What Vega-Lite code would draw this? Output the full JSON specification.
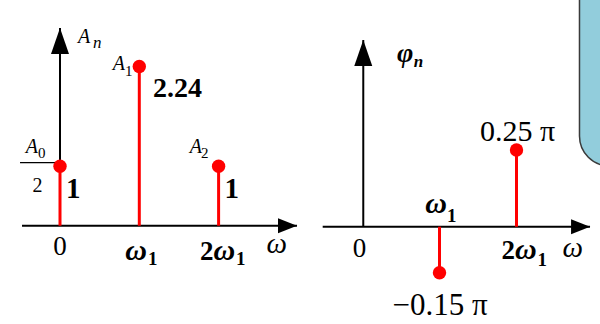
{
  "$schema": "https://vega.github.io/schema/vega-lite/v6.json",
  "padding": 0,
  "spacing": 0,
  "background": "white",
  "config": {
    "view": {"stroke": null},
    "axis": {"disable": true},
    "legend": {"disable": true},
    "concat": {"spacing": 0},
    "text": {"font": "Liberation Serif", "color": "black", "baseline": "alphabetic"}
  },
  "datasets": {
    "amp": [
      {"freq": 0, "amp": 1, "label": "1"},
      {"freq": 1, "amp": 2.24, "label": "2.24"},
      {"freq": 2, "amp": 1, "label": "1"}
    ],
    "phase": [
      {"freq": 1, "phase": -0.15, "label": "−0.15 π"},
      {"freq": 2, "phase": 0.25, "label": "0.25 π"}
    ],
    "ticks": [{"freq": 0}, {"freq": 1}, {"freq": 2}],
    "axesL": [
      {"kind": "h", "x1": -0.479, "x2": 2.989, "y1": 0, "y2": 0},
      {"kind": "v", "x1": 0, "x2": 0, "y1": 0, "y2": 2.676},
      {"kind": "frac", "x1": -0.504, "x2": -0.03, "y1": 1.048, "y2": 1.048}
    ],
    "axesR": [
      {"kind": "h", "x1": -0.517, "x2": 2.955, "y1": 0, "y2": 0},
      {"kind": "v", "x1": 0.01, "x2": 0.01, "y1": 0, "y2": 0.6087}
    ],
    "boxR": [{"x1": 2.818, "x2": 3.6, "y1": 0.198, "y2": 1.0}]
  },
  "hconcat": [
    {
      "width": 300,
      "height": 324,
      "layer": [
        {
          "data": {"name": "axesL"},
          "transform": [{"filter": "datum.kind != 'frac'"}],
          "mark": {"type": "rule", "color": "black", "strokeWidth": 2},
          "encoding": {
            "x": {"field": "x1", "type": "quantitative", "scale": {"domain": [-0.7566, 3.0265], "zero": false, "nice": false}},
            "x2": {"field": "x2"},
            "y": {"field": "y1", "type": "quantitative", "scale": {"type": "pow", "exponent": 1.22, "domain": [-1.509, 2.983], "zero": false, "nice": false}},
            "y2": {"field": "y2"}
          }
        },
        {
          "data": {"name": "axesL"},
          "transform": [{"filter": "datum.kind == 'frac'"}],
          "mark": {"type": "rule", "color": "black", "strokeWidth": 1.3},
          "encoding": {
            "x": {"field": "x1", "type": "quantitative", "scale": {"domain": [-0.7566, 3.0265], "zero": false, "nice": false}},
            "x2": {"field": "x2"},
            "y": {"field": "y1", "type": "quantitative", "scale": {"type": "pow", "exponent": 1.22, "domain": [-1.509, 2.983], "zero": false, "nice": false}},
            "y2": {"field": "y2"}
          }
        },
        {
          "data": {"name": "axesL"},
          "transform": [{"filter": "datum.kind != 'frac'"}],
          "mark": {"type": "point", "filled": true, "color": "black", "opacity": 1, "size": 400, "strokeWidth": 0},
          "encoding": {
            "x": {"field": "x2", "type": "quantitative", "scale": {"domain": [-0.7566, 3.0265], "zero": false, "nice": false}},
            "y": {"field": "y2", "type": "quantitative", "scale": {"type": "pow", "exponent": 1.22, "domain": [-1.509, 2.983], "zero": false, "nice": false}},
            "shape": {"field": "kind", "type": "nominal", "scale": {"domain": ["h", "v"], "range": ["M0,0L-1.9,-0.75L-1.9,0.75Z", "M0,0L0.9,2.6L-0.9,2.6Z"]}, "legend": null}
          }
        },
        {
          "data": {"name": "amp"},
          "mark": {"type": "rule", "color": "#ff0000", "strokeWidth": 3},
          "encoding": {
            "x": {"field": "freq", "type": "quantitative", "scale": {"domain": [-0.7566, 3.0265], "zero": false, "nice": false}},
            "y": {"field": "amp", "type": "quantitative", "scale": {"type": "pow", "exponent": 1.22, "domain": [-1.509, 2.983], "zero": false, "nice": false}},
            "y2": {"datum": 0}
          }
        },
        {
          "data": {"name": "amp"},
          "mark": {"type": "point", "filled": true, "color": "#ff0000", "opacity": 1, "size": 180, "shape": "circle"},
          "encoding": {
            "x": {"field": "freq", "type": "quantitative", "scale": {"domain": [-0.7566, 3.0265], "zero": false, "nice": false}},
            "y": {"field": "amp", "type": "quantitative", "scale": {"type": "pow", "exponent": 1.22, "domain": [-1.509, 2.983], "zero": false, "nice": false}}
          }
        },
        {
          "data": {"name": "amp"},
          "transform": [{"filter": "datum.amp == 1"}],
          "mark": {"type": "text", "fontWeight": "bold", "fontSize": 29, "align": "left", "dx": 6, "dy": 31.8},
          "encoding": {
            "x": {"field": "freq", "type": "quantitative", "scale": {"domain": [-0.7566, 3.0265], "zero": false, "nice": false}},
            "y": {"field": "amp", "type": "quantitative", "scale": {"type": "pow", "exponent": 1.22, "domain": [-1.509, 2.983], "zero": false, "nice": false}},
            "text": {"field": "label"}
          }
        },
        {
          "data": {"name": "amp"},
          "transform": [{"filter": "datum.amp != 1"}],
          "mark": {"type": "text", "fontWeight": "bold", "fontSize": 28, "align": "left", "dx": 13.7, "dy": 30.5},
          "encoding": {
            "x": {"field": "freq", "type": "quantitative", "scale": {"domain": [-0.7566, 3.0265], "zero": false, "nice": false}},
            "y": {"field": "amp", "type": "quantitative", "scale": {"type": "pow", "exponent": 1.22, "domain": [-1.509, 2.983], "zero": false, "nice": false}},
            "text": {"field": "label"}
          }
        },
        {
          "data": {"name": "amp"},
          "transform": [{"filter": "datum.freq == 0"}],
          "layer": [
            {"mark": {"type": "text", "text": "A", "fontStyle": "italic", "fontSize": 20, "align": "right", "dx": -22, "dy": -13.2}},
            {"mark": {"type": "text", "fontSize": 15, "align": "left", "dx": -22, "dy": -8.2}, "encoding": {"text": {"field": "freq"}}},
            {"mark": {"type": "text", "text": "2", "fontSize": 20, "align": "center", "dx": -22.5, "dy": 25.8}}
          ],
          "encoding": {
            "x": {"field": "freq", "type": "quantitative", "scale": {"domain": [-0.7566, 3.0265], "zero": false, "nice": false}},
            "y": {"field": "amp", "type": "quantitative", "scale": {"type": "pow", "exponent": 1.22, "domain": [-1.509, 2.983], "zero": false, "nice": false}}
          }
        },
        {
          "data": {"name": "amp"},
          "transform": [{"filter": "datum.freq == 1"}],
          "layer": [
            {"mark": {"type": "text", "text": "A", "fontStyle": "italic", "fontSize": 20, "align": "right", "dx": -14.3, "dy": 3.5}},
            {"mark": {"type": "text", "fontSize": 15, "align": "left", "dx": -14.3, "dy": 9.5}, "encoding": {"text": {"field": "freq"}}}
          ],
          "encoding": {
            "x": {"field": "freq", "type": "quantitative", "scale": {"domain": [-0.7566, 3.0265], "zero": false, "nice": false}},
            "y": {"field": "amp", "type": "quantitative", "scale": {"type": "pow", "exponent": 1.22, "domain": [-1.509, 2.983], "zero": false, "nice": false}}
          }
        },
        {
          "data": {"name": "amp"},
          "transform": [{"filter": "datum.freq == 2"}],
          "layer": [
            {"mark": {"type": "text", "text": "A", "fontStyle": "italic", "fontSize": 20, "align": "right", "dx": -16.6, "dy": -13.2}},
            {"mark": {"type": "text", "fontSize": 15, "align": "left", "dx": -17.6, "dy": -8.2}, "encoding": {"text": {"field": "freq"}}}
          ],
          "encoding": {
            "x": {"field": "freq", "type": "quantitative", "scale": {"domain": [-0.7566, 3.0265], "zero": false, "nice": false}},
            "y": {"field": "amp", "type": "quantitative", "scale": {"type": "pow", "exponent": 1.22, "domain": [-1.509, 2.983], "zero": false, "nice": false}}
          }
        },
        {
          "data": {"name": "axesL"},
          "transform": [{"filter": "datum.kind == 'v'"}],
          "layer": [
            {"mark": {"type": "text", "text": "A", "fontStyle": "italic", "fontSize": 20, "align": "left", "dx": 18, "dy": 15}},
            {"mark": {"type": "text", "text": "n", "fontStyle": "italic", "fontSize": 17, "align": "left", "dx": 33, "dy": 20}}
          ],
          "encoding": {
            "x": {"field": "x2", "type": "quantitative", "scale": {"domain": [-0.7566, 3.0265], "zero": false, "nice": false}},
            "y": {"field": "y2", "type": "quantitative", "scale": {"type": "pow", "exponent": 1.22, "domain": [-1.509, 2.983], "zero": false, "nice": false}}
          }
        },
        {
          "data": {"name": "axesL"},
          "transform": [{"filter": "datum.kind == 'h'"}],
          "mark": {"type": "text", "text": "ω", "fontStyle": "italic", "fontSize": 29, "align": "right", "dx": -10, "dy": 27.3},
          "encoding": {
            "x": {"field": "x2", "type": "quantitative", "scale": {"domain": [-0.7566, 3.0265], "zero": false, "nice": false}},
            "y": {"field": "y2", "type": "quantitative", "scale": {"type": "pow", "exponent": 1.22, "domain": [-1.509, 2.983], "zero": false, "nice": false}}
          }
        },
        {
          "data": {"name": "ticks"},
          "transform": [{"filter": "datum.freq == 0"}],
          "mark": {"type": "text", "text": "0", "fontSize": 27, "align": "center", "dx": 0, "dy": 29.3},
          "encoding": {
            "x": {"field": "freq", "type": "quantitative", "scale": {"domain": [-0.7566, 3.0265], "zero": false, "nice": false}},
            "y": {"datum": 0, "type": "quantitative", "scale": {"type": "pow", "exponent": 1.22, "domain": [-1.509, 2.983], "zero": false, "nice": false}}
          }
        },
        {
          "data": {"name": "ticks"},
          "transform": [{"filter": "datum.freq == 1"}],
          "layer": [
            {"mark": {"type": "text", "text": "ω", "fontStyle": "italic", "fontWeight": "bold", "fontSize": 30, "align": "right", "dx": 7.7, "dy": 34.3}},
            {"mark": {"type": "text", "text": "1", "fontWeight": "bold", "fontSize": 19, "align": "left", "dx": 8.7, "dy": 39.3}}
          ],
          "encoding": {
            "x": {"field": "freq", "type": "quantitative", "scale": {"domain": [-0.7566, 3.0265], "zero": false, "nice": false}},
            "y": {"datum": 0, "type": "quantitative", "scale": {"type": "pow", "exponent": 1.22, "domain": [-1.509, 2.983], "zero": false, "nice": false}}
          }
        },
        {
          "data": {"name": "ticks"},
          "transform": [{"filter": "datum.freq == 2"}],
          "layer": [
            {"mark": {"type": "text", "text": "2", "fontWeight": "bold", "fontSize": 27, "align": "right", "dx": -5, "dy": 34.3}},
            {"mark": {"type": "text", "text": "ω", "fontStyle": "italic", "fontWeight": "bold", "fontSize": 30, "align": "left", "dx": -5, "dy": 34.3}},
            {"mark": {"type": "text", "text": "1", "fontWeight": "bold", "fontSize": 19, "align": "left", "dx": 17.5, "dy": 39.3}}
          ],
          "encoding": {
            "x": {"field": "freq", "type": "quantitative", "scale": {"domain": [-0.7566, 3.0265], "zero": false, "nice": false}},
            "y": {"datum": 0, "type": "quantitative", "scale": {"type": "pow", "exponent": 1.22, "domain": [-1.509, 2.983], "zero": false, "nice": false}}
          }
        }
      ]
    },
    {
      "width": 300,
      "height": 324,
      "layer": [
        {
          "data": {"name": "boxR"},
          "mark": {"type": "rect", "clip": true, "fill": "#92CDDC", "stroke": "#3a3a3a", "strokeWidth": 1.5, "cornerRadius": 36},
          "encoding": {
            "x": {"field": "x1", "type": "quantitative", "scale": {"domain": [-0.8117, 3.0844], "zero": false, "nice": false}},
            "x2": {"field": "x2"},
            "y": {"field": "y1", "type": "quantitative", "scale": {"domain": [-0.3172, 0.7392], "zero": false, "nice": false}},
            "y2": {"field": "y2"}
          }
        },
        {
          "data": {"name": "axesR"},
          "mark": {"type": "rule", "color": "black", "strokeWidth": 2},
          "encoding": {
            "x": {"field": "x1", "type": "quantitative", "scale": {"domain": [-0.8117, 3.0844], "zero": false, "nice": false}},
            "x2": {"field": "x2"},
            "y": {"field": "y1", "type": "quantitative", "scale": {"domain": [-0.3172, 0.7392], "zero": false, "nice": false}},
            "y2": {"field": "y2"}
          }
        },
        {
          "data": {"name": "axesR"},
          "mark": {"type": "point", "filled": true, "color": "black", "opacity": 1, "size": 400, "strokeWidth": 0},
          "encoding": {
            "x": {"field": "x2", "type": "quantitative", "scale": {"domain": [-0.8117, 3.0844], "zero": false, "nice": false}},
            "y": {"field": "y2", "type": "quantitative", "scale": {"domain": [-0.3172, 0.7392], "zero": false, "nice": false}},
            "shape": {"field": "kind", "type": "nominal", "scale": {"domain": ["h", "v"], "range": ["M0,0L-1.9,-0.75L-1.9,0.75Z", "M0,0L0.9,2.6L-0.9,2.6Z"]}, "legend": null}
          }
        },
        {
          "data": {"name": "phase"},
          "mark": {"type": "rule", "color": "#ff0000", "strokeWidth": 3},
          "encoding": {
            "x": {"field": "freq", "type": "quantitative", "scale": {"domain": [-0.8117, 3.0844], "zero": false, "nice": false}},
            "y": {"field": "phase", "type": "quantitative", "scale": {"domain": [-0.3172, 0.7392], "zero": false, "nice": false}},
            "y2": {"datum": 0}
          }
        },
        {
          "data": {"name": "phase"},
          "mark": {"type": "point", "filled": true, "color": "#ff0000", "opacity": 1, "size": 180, "shape": "circle"},
          "encoding": {
            "x": {"field": "freq", "type": "quantitative", "scale": {"domain": [-0.8117, 3.0844], "zero": false, "nice": false}},
            "y": {"field": "phase", "type": "quantitative", "scale": {"domain": [-0.3172, 0.7392], "zero": false, "nice": false}}
          }
        },
        {
          "data": {"name": "phase"},
          "transform": [{"filter": "datum.phase > 0"}],
          "mark": {"type": "text", "fontSize": 30, "align": "center", "dx": 1, "dy": -9},
          "encoding": {
            "x": {"field": "freq", "type": "quantitative", "scale": {"domain": [-0.8117, 3.0844], "zero": false, "nice": false}},
            "y": {"field": "phase", "type": "quantitative", "scale": {"domain": [-0.3172, 0.7392], "zero": false, "nice": false}},
            "text": {"field": "label"}
          }
        },
        {
          "data": {"name": "phase"},
          "transform": [{"filter": "datum.phase < 0"}],
          "mark": {"type": "text", "fontSize": 31, "align": "center", "dx": 0.5, "dy": 42.3},
          "encoding": {
            "x": {"field": "freq", "type": "quantitative", "scale": {"domain": [-0.8117, 3.0844], "zero": false, "nice": false}},
            "y": {"field": "phase", "type": "quantitative", "scale": {"domain": [-0.3172, 0.7392], "zero": false, "nice": false}},
            "text": {"field": "label"}
          }
        },
        {
          "data": {"name": "axesR"},
          "transform": [{"filter": "datum.kind == 'v'"}],
          "layer": [
            {"mark": {"type": "text", "text": "φ", "fontStyle": "italic", "fontWeight": "bold", "fontSize": 28, "align": "right", "dx": 50, "dy": 22}},
            {"mark": {"type": "text", "text": "n", "fontStyle": "italic", "fontWeight": "bold", "fontSize": 17, "align": "left", "dx": 50.5, "dy": 27}}
          ],
          "encoding": {
            "x": {"field": "x2", "type": "quantitative", "scale": {"domain": [-0.8117, 3.0844], "zero": false, "nice": false}},
            "y": {"field": "y2", "type": "quantitative", "scale": {"domain": [-0.3172, 0.7392], "zero": false, "nice": false}}
          }
        },
        {
          "data": {"name": "axesR"},
          "transform": [{"filter": "datum.kind == 'h'"}],
          "mark": {"type": "text", "text": "ω", "fontStyle": "italic", "fontSize": 29, "align": "right", "dx": -7, "dy": 30.3},
          "encoding": {
            "x": {"field": "x2", "type": "quantitative", "scale": {"domain": [-0.8117, 3.0844], "zero": false, "nice": false}},
            "y": {"field": "y2", "type": "quantitative", "scale": {"domain": [-0.3172, 0.7392], "zero": false, "nice": false}}
          }
        },
        {
          "data": {"name": "ticks"},
          "transform": [{"filter": "datum.freq == 0"}],
          "mark": {"type": "text", "text": "0", "fontSize": 27, "align": "center", "dx": -3, "dy": 30.3},
          "encoding": {
            "x": {"field": "freq", "type": "quantitative", "scale": {"domain": [-0.8117, 3.0844], "zero": false, "nice": false}},
            "y": {"datum": 0, "type": "quantitative", "scale": {"domain": [-0.3172, 0.7392], "zero": false, "nice": false}}
          }
        },
        {
          "data": {"name": "ticks"},
          "transform": [{"filter": "datum.freq == 1"}],
          "layer": [
            {"mark": {"type": "text", "text": "ω", "fontStyle": "italic", "fontWeight": "bold", "fontSize": 30, "align": "right", "dx": 7.5, "dy": -13.7}},
            {"mark": {"type": "text", "text": "1", "fontWeight": "bold", "fontSize": 19, "align": "left", "dx": 7.5, "dy": -4.7}}
          ],
          "encoding": {
            "x": {"field": "freq", "type": "quantitative", "scale": {"domain": [-0.8117, 3.0844], "zero": false, "nice": false}},
            "y": {"datum": 0, "type": "quantitative", "scale": {"domain": [-0.3172, 0.7392], "zero": false, "nice": false}}
          }
        },
        {
          "data": {"name": "ticks"},
          "transform": [{"filter": "datum.freq == 2"}],
          "layer": [
            {"mark": {"type": "text", "text": "2", "fontWeight": "bold", "fontSize": 27, "align": "right", "dx": -1.5, "dy": 32.3}},
            {"mark": {"type": "text", "text": "ω", "fontStyle": "italic", "fontWeight": "bold", "fontSize": 30, "align": "left", "dx": -1.5, "dy": 32.3}},
            {"mark": {"type": "text", "text": "1", "fontWeight": "bold", "fontSize": 19, "align": "left", "dx": 21, "dy": 39.3}}
          ],
          "encoding": {
            "x": {"field": "freq", "type": "quantitative", "scale": {"domain": [-0.8117, 3.0844], "zero": false, "nice": false}},
            "y": {"datum": 0, "type": "quantitative", "scale": {"domain": [-0.3172, 0.7392], "zero": false, "nice": false}}
          }
        }
      ]
    }
  ]
}
